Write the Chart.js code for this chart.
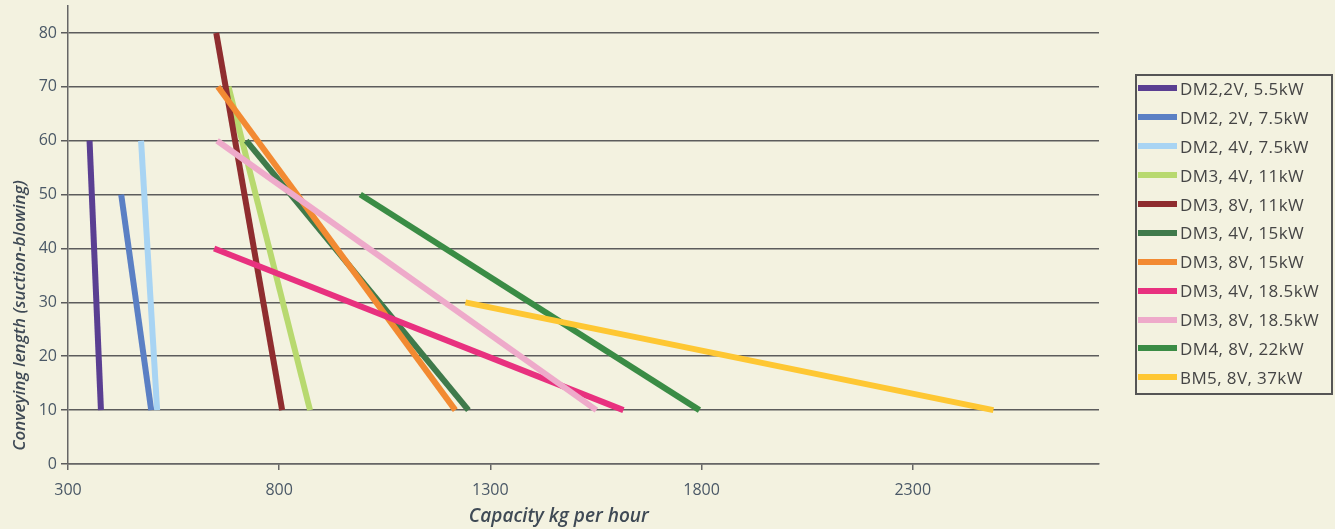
<!DOCTYPE html>
<html>
<head>
<meta charset="utf-8">
<script src="https://cdn.jsdelivr.net/npm/chart.js@4"></script>
<style>
  body { margin: 0; background: #f3f2e0; }
  #wrap { position: relative; width: 1335px; height: 529px; }
  #legend {
    position: absolute; left: 1135px; top: 74px; width: 194px; height: 317px;
    border: 2px solid #555;
    font-family: "Open Sans", sans-serif; font-size: 17px; letter-spacing: 0.4px; color: #454545;
  }
  .row { display: flex; align-items: center; height: 28.9px; white-space: nowrap; }
  .row:first-child { margin-top: -2px; }
  .sw { width: 39px; height: 6px; margin-left: 1px; margin-right: 3px; flex: none; }
</style>
</head>
<body>
<div id="wrap">
  <canvas id="chart" width="1335" height="529"></canvas>
  <div id="legend"></div>
</div>
<script>
const $ = (id) => document.getElementById(id);

const seriesNames = [
  "DM2,2V, 5.5kW", "DM2, 2V, 7.5kW", "DM2, 4V, 7.5kW", "DM3, 4V, 11kW",
  "DM3, 8V, 11kW", "DM3, 4V, 15kW", "DM3, 8V, 15kW", "DM3, 4V, 18.5kW",
  "DM3, 8V, 18.5kW", "DM4, 8V, 22kW", "BM5, 8V, 37kW"
];
const seriesColors = [
  "#5a3f92", "#5b80c4", "#a8d4f3", "#b8d96f", "#8f2d2f", "#3f7a4b",
  "#f28a32", "#e8317f", "#eeaaca", "#3a8c45", "#fec733"
];
// each series is a straight line from a start point to an end point
const startCapacity = [351, 426, 473, 680, 651, 722, 655, 646, 653, 992, 1241];
const startLength   = [60, 50, 60, 70, 80, 60, 70, 40, 60, 50, 30];
const endCapacity   = [378, 497, 511, 873, 807, 1248, 1217, 1615, 1551, 1795, 2491];
const endLength     = [10, 10, 10, 10, 10, 10, 10, 10, 10, 10, 10];

const xTicks = [300, 800, 1300, 1800, 2300];
const yTicks = [0, 10, 20, 30, 40, 50, 60, 70, 80];

const datasets = seriesNames.map((name, i) => ({
  label: name,
  data: [
    { x: startCapacity[i], y: startLength[i] },
    { x: endCapacity[i], y: endLength[i] },
  ],
  borderColor: seriesColors[i],
  backgroundColor: seriesColors[i],
  borderWidth: 6,
  pointRadius: 0,
  tension: 0,
  order: seriesNames.length - i, // later series drawn on top
}));

const tickFont = { family: "'Open Sans', sans-serif", size: 16 };
const nb = (n) => "\u00a0".repeat(n);

new Chart($("chart").getContext("2d"), {
  type: "line",
  data: { datasets },
  options: {
    responsive: false,
    animation: false,
    devicePixelRatio: 1,
    layout: { padding: { top: 6, right: 236, left: 0, bottom: 0 } },
    plugins: { legend: { display: false }, tooltip: { enabled: false } },
    scales: {
      x: {
        type: "linear",
        min: 300,
        max: 2741,
        afterBuildTicks: (s) => { s.ticks = xTicks.map(v => ({ value: v })); },
        afterFit: (s) => { s.height = 65; },
        grid: { drawOnChartArea: false, drawTicks: true, tickLength: 6, color: "#666", lineWidth: 1.5 },
        border: { color: "#666", width: 1.5 },
        ticks: { font: tickFont, color: "#4a5866", padding: 11, maxRotation: 0, callback: (v) => String(v) },
        title: {
          display: true,
          text: "Capacity kg per hour" + nb(10),
          font: { family: "'Open Sans', sans-serif", size: 19, style: "italic", weight: "600" },
          color: "#3f4a55",
          padding: { top: 0, bottom: 1 },
        },
      },
      y: {
        type: "linear",
        min: 0,
        max: 85,
        afterBuildTicks: (s) => { s.ticks = yTicks.map(v => ({ value: v })); },
        afterFit: (s) => { s.width = 68; s.paddingTop = 0; s.paddingBottom = 0; },
        grid: { color: "#5c5c5c", lineWidth: 1.5, tickLength: 7 },
        border: { color: "#666", width: 1.5 },
        ticks: { font: tickFont, color: "#4a5866", padding: 4, callback: (v) => String(v) },
        title: {
          display: true,
          text: nb(3) + "Conveying length (suction-blowing)",
          font: { family: "'Open Sans', sans-serif", size: 17, style: "italic", weight: "600" },
          color: "#3f4a55",
          align: "start",
          padding: { top: 10, bottom: 0 },
        },
      },
    },
  },
});

// legend built from the same arrays
$("legend").innerHTML = seriesNames.map((name, i) =>
  `<div class="row"><div class="sw" style="background:${seriesColors[i]}"></div><span>${name}</span></div>`
).join("");
</script>
</body>
</html>
